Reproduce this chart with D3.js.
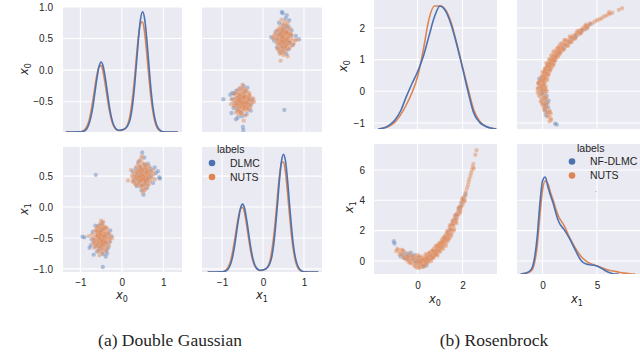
<!DOCTYPE html>
<html>
<head>
<meta charset="utf-8">
<script src="https://cdn.jsdelivr.net/npm/d3@7"></script>
<style>
body { margin: 0; background: #fff; }
text { font-family: "Liberation Sans", Arial, sans-serif; fill: #262626; }
</style>
</head>
<body>
<svg id="chart" width="640" height="361"></svg>
<script>
const BLUE = "#4C72B0";
const ORANGE = "#DD8452";

// ---- (a) Double Gaussian : samples as [x0, x1]
const dgLabels = ["DLMC", "NUTS"];

const dgDlmc = [
  [0.52,0.48],[0.45,0.60],[0.60,0.43],[0.38,0.52],[0.66,0.58],[0.50,0.35],[0.55,0.68],[0.42,0.40],[0.71,0.50],[0.33,0.62],
  [0.58,0.55],[0.47,0.27],[0.63,0.70],[0.29,0.42],[0.54,0.80],[0.75,0.39],[0.40,0.73],[0.61,0.31],[0.48,0.57],[0.69,0.62],
  [0.36,0.34],[0.57,0.45],[0.44,0.50],[0.82,0.55],[0.26,0.57],[0.52,0.20],[0.49,0.88],[0.90,0.48],[0.92,0.46],[0.87,0.58],
  [0.65,0.47],[0.43,0.64],[0.56,0.38],[0.79,0.64],[0.34,0.48],[-0.63,0.52],
  [-0.48,-0.52],[-0.58,-0.42],[-0.40,-0.58],[-0.66,-0.55],[-0.35,-0.44],[-0.52,-0.68],[-0.44,-0.35],[-0.62,-0.64],[-0.30,-0.57],[-0.55,-0.30],
  [-0.70,-0.40],[-0.46,-0.76],[-0.37,-0.70],[-0.75,-0.62],[-0.28,-0.38],[-0.54,-0.47],[-0.42,-0.48],[-0.60,-0.72],[-0.50,-0.37],[-0.33,-0.66],
  [-0.73,-0.52],[-0.47,-0.26],[-0.64,-0.30],[-0.39,-0.80],[-0.56,-0.60],[-0.95,-0.48],[-0.46,-0.97],[-0.90,-0.49],[-0.25,-0.47],[-0.78,-0.66],
  [-0.52,-0.55],[-0.44,-0.62],[-0.68,-0.77],[-0.36,-0.75]
];

const dgNuts = [
  [0.50,0.50],[0.42,0.55],[0.58,0.46],[0.47,0.38],[0.55,0.62],[0.36,0.49],[0.63,0.54],[0.51,0.67],[0.44,0.43],[0.60,0.40],
  [0.39,0.60],[0.53,0.33],[0.68,0.49],[0.32,0.44],[0.49,0.58],[0.57,0.55],[0.45,0.47],[0.62,0.63],[0.41,0.36],[0.54,0.45],
  [0.48,0.72],[0.70,0.58],[0.29,0.53],[0.52,0.41],[0.46,0.61],[0.59,0.49],[0.37,0.40],[0.64,0.44],[0.43,0.66],[0.56,0.37],
  [0.50,0.29],[0.33,0.58],[0.66,0.66],[0.47,0.52],[0.40,0.47],[0.61,0.57],[0.52,0.55],[0.44,0.33],[0.73,0.46],[0.35,0.65],
  [0.55,0.70],[0.27,0.46],[0.58,0.30],[0.49,0.44],[0.64,0.37],[0.38,0.54],[0.53,0.62],[0.45,0.56],[0.60,0.52],[0.42,0.42],
  [0.77,0.53],[0.24,0.50],[0.51,0.24],[0.47,0.78],[0.68,0.41],[0.31,0.38],[0.57,0.64],[0.39,0.70],[0.54,0.51],[0.46,0.48],
  [0.15,0.43],[0.80,0.45],[0.48,0.82],[0.22,0.60],
  [0.35,0.55],[0.62,0.47],[0.50,0.60],[0.43,0.50],[0.57,0.42],[0.48,0.35],[0.66,0.52],[0.40,0.58],[0.53,0.48],[0.45,0.65],
  [0.59,0.60],[0.37,0.45],[0.71,0.55],[0.30,0.50],[0.55,0.27],[0.49,0.52],[0.63,0.35],[0.42,0.75],[0.52,0.45],[0.58,0.68],
  [0.26,0.41],[0.75,0.60],[0.34,0.36],[0.47,0.44],[0.60,0.57],
  [-0.50,-0.50],[-0.56,-0.44],[-0.43,-0.55],[-0.52,-0.62],[-0.46,-0.38],[-0.62,-0.51],[-0.38,-0.47],[-0.49,-0.33],[-0.57,-0.58],[-0.41,-0.62],
  [-0.60,-0.40],[-0.47,-0.67],[-0.33,-0.52],[-0.53,-0.45],[-0.44,-0.43],[-0.66,-0.57],[-0.51,-0.72],[-0.40,-0.36],[-0.58,-0.31],[-0.35,-0.60],
  [-0.48,-0.55],[-0.55,-0.52],[-0.45,-0.49],[-0.63,-0.45],[-0.39,-0.54],[-0.54,-0.37],[-0.50,-0.64],[-0.42,-0.41],[-0.59,-0.63],[-0.30,-0.45],
  [-0.69,-0.50],[-0.52,-0.27],[-0.46,-0.74],[-0.37,-0.66],[-0.61,-0.34],[-0.56,-0.68],[-0.43,-0.31],[-0.49,-0.42],[-0.65,-0.62],[-0.34,-0.40],
  [-0.53,-0.57],[-0.47,-0.46],[-0.57,-0.48],[-0.41,-0.51],[-0.51,-0.39],[-0.72,-0.44],[-0.28,-0.55],[-0.54,-0.78],[-0.45,-0.24],[-0.60,-0.56],
  [-0.38,-0.71],[-0.64,-0.38],[-0.49,-0.58],[-0.42,-0.58],[-0.55,-0.42],[-0.36,-0.34],[-0.67,-0.66],[-0.48,-0.29],[-0.31,-0.62],[-0.58,-0.53],
  [-0.80,-0.47],[-0.23,-0.50],[-0.50,-0.22],
  [-0.45,-0.55],[-0.58,-0.46],[-0.52,-0.40],[-0.40,-0.44],[-0.63,-0.60],[-0.48,-0.62],[-0.35,-0.49],[-0.55,-0.34],[-0.44,-0.68],[-0.61,-0.47],
  [-0.50,-0.54],[-0.38,-0.57],[-0.67,-0.53],[-0.46,-0.35],[-0.54,-0.64],[-0.32,-0.42],[-0.57,-0.71],[-0.43,-0.47],[-0.70,-0.58],[-0.29,-0.50],
  [-0.51,-0.45],[-0.60,-0.38],[-0.47,-0.59],[-0.39,-0.33],[-0.53,-0.50]
];

// KDE curves
const dgKdeGrid = [-1.35,-1.2,-1.1,
  -1.0,-0.95,-0.9,-0.85,-0.8,-0.75,-0.7,-0.65,-0.6,-0.55,-0.5,-0.45,-0.4,-0.35,-0.3,-0.25,-0.2,-0.15,-0.1,-0.05,
  0,0.05,0.1,0.15,0.2,0.25,0.3,0.35,0.4,0.45,0.5,0.55,0.6,0.65,0.7,0.75,0.8,0.85,0.9,0.95,1.0,
  1.1,1.2,1.35];
const dgKdeX0Dlmc = [0,0,0.001,
  0.003,0.008,0.02,0.05,0.12,0.24,0.42,0.66,0.90,1.09,1.165,1.09,0.90,0.66,0.42,0.24,0.12,0.06,0.035,0.03,
  0.035,0.045,0.07,0.12,0.21,0.41,0.72,1.13,1.55,1.88,2.0,1.88,1.55,1.13,0.72,0.41,0.21,0.10,0.04,0.015,0.005,
  0.001,0,0];
const dgKdeX0Nuts = [0,0.001,0.002,
  0.005,0.014,0.036,0.084,0.17,0.32,0.52,0.75,0.96,1.09,1.105,0.99,0.79,0.56,0.35,0.20,0.10,0.05,0.03,0.025,
  0.03,0.045,0.07,0.14,0.29,0.53,0.85,1.24,1.59,1.81,1.83,1.65,1.31,0.93,0.58,0.33,0.16,0.07,0.03,0.01,0.004,
  0.001,0,0];
const dgKdeX1Dlmc = [0,0,0.001,
  0.003,0.008,0.02,0.05,0.115,0.23,0.41,0.64,0.87,1.06,1.13,1.06,0.87,0.64,0.41,0.23,0.115,0.06,0.035,0.03,
  0.035,0.045,0.07,0.12,0.21,0.40,0.71,1.10,1.52,1.84,1.96,1.84,1.52,1.10,0.71,0.40,0.21,0.10,0.04,0.015,0.005,
  0.001,0,0];
const dgKdeX1Nuts = [0,0.001,0.002,
  0.005,0.014,0.035,0.08,0.165,0.31,0.50,0.72,0.92,1.05,1.075,0.98,0.78,0.55,0.34,0.19,0.10,0.05,0.03,0.025,
  0.03,0.045,0.07,0.14,0.29,0.53,0.85,1.24,1.59,1.81,1.83,1.65,1.31,0.93,0.58,0.33,0.16,0.07,0.03,0.01,0.004,
  0.001,0,0];

const dgTicksX0 = [-1, 0, 1];
const dgTicksX1 = [-1, 0, 1];
const dgTicksRow0 = [1.0, 0.5, 0.0, -0.5];
const dgTicksRow1 = [0.5, 0.0, -0.5, -1.0];

// ---- (b) Rosenbrock : samples as [x0, x1]
const rbLabels = ["NF-DLMC", "NUTS"];

const rbDlmc = [
  [-1.05,1.30],[-1.02,1.15],[-0.75,0.30],[-0.65,0.45],[-0.58,0.20],[-0.50,0.50],[-0.42,0.10],[-0.35,0.35],[-0.30,0.55],[-0.22,0.10],
  [-0.15,0.40],[-0.08,-0.10],[0.00,0.20],[0.08,-0.20],[0.15,0.05],[0.25,-0.35],[0.35,-0.05],[0.45,0.05],[0.55,0.30],[0.65,0.25],
  [0.75,0.65],[0.85,0.55],[0.95,0.90],[1.05,1.00],[1.15,1.45],[1.25,1.50],[1.35,1.85],[1.45,2.05],[1.55,2.45],[1.65,2.70],
  [1.75,3.10],[1.85,3.45],[1.95,3.80],[2.05,4.10],[2.12,4.40],[1.90,3.55],[1.70,2.95],[0.40,-0.30],[-0.45,0.30],[-0.05,0.00]
];

const rbNuts = [
  [-0.85,0.72],[-0.75,0.55],[-0.68,0.40],[-0.60,0.62],[-0.55,0.25],[-0.50,0.35],[-0.45,0.15],[-0.40,0.30],[-0.35,0.05],[-0.30,0.20],
  [-0.28,-0.10],[-0.22,0.08],[-0.18,-0.20],[-0.15,0.15],[-0.10,-0.05],[-0.08,0.25],[-0.05,-0.30],[0.00,0.05],[0.02,-0.15],[0.05,0.10],
  [0.08,-0.40],[0.10,0.00],[0.12,0.20],[0.15,-0.25],[0.18,0.05],[0.20,-0.10],[0.25,0.15],[0.28,-0.05],[0.30,0.25],[0.33,-0.20],
  [0.35,0.10],[0.40,0.30],[0.42,0.00],[0.45,0.45],[0.48,0.15],[0.50,0.35],[0.55,0.55],[0.58,0.20],[0.60,0.40],[0.63,0.65],
  [0.66,0.30],[0.70,0.55],[0.72,0.80],[0.75,0.45],[0.78,0.70],[0.80,0.95],[0.83,0.60],[0.86,0.85],[0.88,0.50],[0.90,1.05],
  [0.93,0.75],[0.96,1.00],[0.98,0.80],[1.00,1.20],[1.02,0.90],[1.05,1.15],[1.08,1.40],[1.10,1.05],[1.13,1.30],[1.16,1.55],
  [1.18,1.20],[1.21,1.45],[1.24,1.70],[1.27,1.35],[1.30,1.80],[1.33,1.55],[1.36,2.00],[1.40,1.75],[1.43,2.20],[1.46,1.90],
  [1.50,2.35],[1.53,2.05],[1.57,2.60],[1.60,2.30],[1.64,2.80],[1.68,2.55],[1.72,3.05],[1.75,2.80],[1.80,3.30],[1.84,3.10],
  [1.88,3.60],[1.92,3.40],[1.96,3.90],[2.00,3.70],[2.05,4.20],[2.10,4.00],[2.15,4.55],[2.20,4.80],[2.27,5.20],[2.35,5.60],
  [2.42,6.00],[2.48,6.40],[2.57,7.00],[2.62,7.30],[2.50,6.10],[2.30,5.40],
  [0.05,-0.05],[0.15,0.30],[0.22,-0.30],[0.32,0.05],[0.38,-0.15],[0.46,0.20],[0.52,0.05],[0.57,0.35],[0.62,0.15],[0.68,0.50],
  [0.73,0.30],[0.77,0.60],[0.82,0.45],[0.85,0.75],[0.90,0.65],[0.94,0.95],[0.99,0.70],[1.03,1.05],[1.07,0.85],[1.12,1.20],
  [1.15,1.00],[1.20,1.35],[1.25,1.15],[1.29,1.55],[1.34,1.30],[1.38,1.70],[1.42,1.50],[1.47,2.10],[1.52,1.80],[1.58,2.40],
  [1.62,2.10],[1.70,2.70],[1.78,3.00],[1.86,3.30],[1.94,3.60],[2.02,4.00],[-0.25,0.35],[-0.12,-0.35],[0.00,0.40],[0.10,-0.45],
  [-0.62,0.20],[-0.70,0.75],[-0.40,-0.05],[0.26,-0.40],[0.36,0.45],
  [-0.80,0.45],[-0.65,0.70],[-0.52,0.10],[-0.38,0.50],[-0.32,-0.15],[-0.20,0.30],[-0.02,-0.45],[0.06,0.30],[0.14,-0.10],[0.22,0.10],
  [0.30,-0.30],[0.39,0.20],[0.47,-0.10],[0.53,0.55],[0.61,0.00],[0.67,0.70],[0.71,0.20],[0.79,0.40],[0.84,1.00],[0.89,0.35],
  [0.97,1.15],[1.01,0.60],[1.09,1.25],[1.14,0.80],[1.22,1.60],[1.26,1.00],[1.31,1.95],[1.37,1.45],[1.44,2.35],[1.49,1.65],
  [1.55,2.65],[1.61,2.00],[1.66,3.00],[1.73,2.50],[1.82,3.50],[1.90,3.20],[1.98,4.10],[2.07,3.90],[2.13,4.30],[2.24,5.00],
  [2.38,5.80],[2.45,6.20],[-0.95,0.65],[-0.90,0.80]
];

const rbKdeX0Grid = [-1.75,-1.5,-1.25,-1,-0.75,-0.5,-0.25,0,0.25,0.5,0.75,1,1.25,1.5,1.75,2,2.25,2.5,2.75,3,3.25,3.5];
const rbKdeX0Dlmc = [0,0.003,0.013,0.03,0.06,0.107,0.15,0.19,0.24,0.307,0.373,0.41,0.393,0.347,0.28,0.203,0.123,0.053,0.023,0.01,0.003,0];
const rbKdeX0Nuts = [0,0.003,0.01,0.023,0.047,0.08,0.12,0.173,0.26,0.363,0.41,0.41,0.397,0.353,0.283,0.207,0.133,0.063,0.027,0.01,0.003,0];

const rbKdeX1Grid = [-2,-1.5,-1,-0.75,-0.5,-0.25,0,0.25,0.5,0.75,1,1.25,1.5,2,2.5,3,3.5,4,4.5,5,5.5,6,6.5,7,7.5,8,8.5];
const rbKdeX1Dlmc = [0,0.003,0.017,0.05,0.12,0.23,0.31,0.323,0.29,0.26,0.233,0.2,0.173,0.147,0.117,0.08,0.047,0.033,0.03,0.027,0.017,0.007,0.001,0,null,null,null];
const rbKdeX1Nuts = [0,0.002,0.012,0.035,0.09,0.19,0.28,0.31,0.30,0.27,0.243,0.213,0.19,0.16,0.12,0.087,0.06,0.043,0.033,0.027,0.02,0.013,0.01,0.006,0.003,0.001,0];

const rbTicksX0 = [0, 2];
const rbTicksX1 = [0, 5];
const rbTicksRow0 = [2, 1, 0, -1];
const rbTicksRow1 = [6, 4, 2, 0];

const captions = ["(a) Double Gaussian", "(b) Rosenbrock"];

// ---------------------------------------------------------------
let svg = d3.select("#chart");
let defs = svg.append("defs");
let clipCount = 0;

function panel(x, y, gridX, gridY) {
    let x0 = x.range()[0], x1 = x.range()[1];
    let yb = y.range()[0], yt = y.range()[1];
    let id = "clip" + (clipCount++);
    defs.append("clipPath").attr("id", id)
        .append("rect").attr("x", x0).attr("y", yt).attr("width", x1 - x0).attr("height", yb - yt);
    let g = svg.append("g");
    g.append("rect")
        .attr("x", x0).attr("y", yt)
        .attr("width", x1 - x0).attr("height", yb - yt)
        .attr("fill", "#EAEAF2");
    g.selectAll(".gx").data(gridX).enter().append("line")
        .attr("x1", d => x(d)).attr("x2", d => x(d))
        .attr("y1", yt).attr("y2", yb)
        .attr("stroke", "#fff").attr("stroke-width", 1.1);
    g.selectAll(".gy").data(gridY).enter().append("line")
        .attr("x1", x0).attr("x2", x1)
        .attr("y1", d => y(d)).attr("y2", d => y(d))
        .attr("stroke", "#fff").attr("stroke-width", 1.1);
    return g.append("g").attr("clip-path", `url(#${id})`);
}

function scatter(g, x, y, pts, xi, yi, color, op) {
    g.selectAll(null).data(pts).enter().append("circle")
        .attr("cx", d => x(d[xi]))
        .attr("cy", d => y(d[yi]))
        .attr("r", 2.2)
        .attr("fill", color)
        .attr("fill-opacity", op)
        .attr("stroke", "#fff")
        .attr("stroke-opacity", 0.3)
        .attr("stroke-width", 0.3);
}

function kde(g, x, y, grid, vals, color) {
    let line = d3.line()
        .defined((d, i) => vals[i] != null)
        .x(d => x(d))
        .y((d, i) => y(vals[i]))
        .curve(d3.curveMonotoneX);
    g.append("path").datum(grid)
        .attr("d", line)
        .attr("fill", "none")
        .attr("stroke", color)
        .attr("stroke-width", 1.6);
}

function yAxis(x, y, ticks, fmt, pad) {
    svg.append("g")
        .attr("transform", `translate(${x.range()[0]},0)`)
        .call(d3.axisLeft(y).tickValues(ticks).tickFormat(fmt).tickSize(0).tickPadding(pad))
        .call(g => g.select(".domain").remove())
        .selectAll("text").style("font-size", "10px").attr("fill", "#262626")
        .style("font-family", '"Liberation Sans", Arial, sans-serif');
}

function xAxis(x, y, ticks, fmt, pad) {
    svg.append("g")
        .attr("transform", `translate(0,${y.range()[0]})`)
        .call(d3.axisBottom(x).tickValues(ticks).tickFormat(fmt).tickSize(0).tickPadding(pad))
        .call(g => g.select(".domain").remove())
        .selectAll("text").style("font-size", "10px").attr("fill", "#262626")
        .style("font-family", '"Liberation Sans", Arial, sans-serif');
}

function mathLabel(cx, cy, sub, rotate) {
    let t = svg.append("text")
        .attr("transform", `translate(${cx},${cy})` + (rotate ? " rotate(-90)" : ""))
        .attr("text-anchor", "middle")
        .attr("dy", "0.3em")
        .style("font-family", '"DejaVu Sans", sans-serif')
        .style("font-size", "11.5px");
    t.append("tspan").style("font-style", "italic").text("x");
    t.append("tspan").attr("dy", 3).style("font-size", "8px").text(sub);
}

function legend(x, y, title, names) {
    let g = svg.append("g");
    g.append("text").attr("x", x + 5).attr("y", y).attr("dy", "0.35em")
        .style("font-size", "10.5px").text(title);
    g.selectAll("circle").data(names).enter().append("circle")
        .attr("cx", x).attr("cy", (d, i) => y + 13.5 + i * 14)
        .attr("r", 3.3)
        .attr("fill", (d, i) => i == 0 ? BLUE : ORANGE);
    g.selectAll(".lt").data(names).enter().append("text")
        .attr("x", x + 18).attr("y", (d, i) => y + 13.5 + i * 14).attr("dy", "0.35em")
        .style("font-size", "10.5px").text(d => d);
}

let f1 = d3.format(".1f");
let f0 = d3.format("d");

// ---- figure (a)
let aX0 = d3.scaleLinear().domain([-1.42, 1.45]).range([63, 182]);
let aX1 = d3.scaleLinear().domain([-1.49, 1.44]).range([202, 322]);
let aY0 = d3.scaleLinear().domain([-0.98, 1.0]).range([132, 7]);
let aY1 = d3.scaleLinear().domain([-1.05, 0.97]).range([272, 147]);
let aD0 = d3.scaleLinear().domain([0, 2.08]).range([132, 7]);
let aD1 = d3.scaleLinear().domain([0, 2.08]).range([272, 147]);

let aTL = panel(aX0, aY0, dgTicksX0, dgTicksRow0);
kde(aTL, aX0, aD0, dgKdeGrid, dgKdeX0Nuts, ORANGE);
kde(aTL, aX0, aD0, dgKdeGrid, dgKdeX0Dlmc, BLUE);

let aTR = panel(aX1, aY0, dgTicksX1, dgTicksRow0);
scatter(aTR, aX1, aY0, dgDlmc, 1, 0, BLUE, 0.4);
scatter(aTR, aX1, aY0, dgNuts, 1, 0, ORANGE, 0.45);

let aBL = panel(aX0, aY1, dgTicksX0, dgTicksRow1);
scatter(aBL, aX0, aY1, dgDlmc, 0, 1, BLUE, 0.4);
scatter(aBL, aX0, aY1, dgNuts, 0, 1, ORANGE, 0.45);

let aBR = panel(aX1, aY1, dgTicksX1, dgTicksRow1);
kde(aBR, aX1, aD1, dgKdeGrid, dgKdeX1Nuts, ORANGE);
kde(aBR, aX1, aD1, dgKdeGrid, dgKdeX1Dlmc, BLUE);

yAxis(aX0, aY0, dgTicksRow0, f1, 10);
yAxis(aX0, aY1, dgTicksRow1, f1, 10);
xAxis(aX0, aY1, dgTicksX0, f0, 7);
xAxis(aX1, aY1, dgTicksX1, f0, 7);
mathLabel(25, 69, "0", true);
mathLabel(25, 209, "1", true);
mathLabel(122, 296, "0", false);
mathLabel(262, 296, "1", false);
legend(212, 149.5, "labels", dgLabels);

// ---- figure (b)
let bX0 = d3.scaleLinear().domain([-1.93, 3.53]).range([374, 497]);
let bX1 = d3.scaleLinear().domain([-2.34, 9.4]).range([517, 645]);
let bY0 = d3.scaleLinear().domain([-1.19, 2.88]).range([129, 0]);
let bY1 = d3.scaleLinear().domain([-0.86, 7.71]).range([274, 144]);
let bD0 = d3.scaleLinear().domain([0, 0.43]).range([129, 0]);
let bD1 = d3.scaleLinear().domain([0, 0.433]).range([274, 144]);

let bTL = panel(bX0, bY0, rbTicksX0, rbTicksRow0);
kde(bTL, bX0, bD0, rbKdeX0Grid, rbKdeX0Nuts, ORANGE);
kde(bTL, bX0, bD0, rbKdeX0Grid, rbKdeX0Dlmc, BLUE);

let bTR = panel(bX1, bY0, rbTicksX1, rbTicksRow0);
scatter(bTR, bX1, bY0, rbDlmc, 1, 0, BLUE, 0.4);
scatter(bTR, bX1, bY0, rbNuts, 1, 0, ORANGE, 0.45);

let bBL = panel(bX0, bY1, rbTicksX0, rbTicksRow1);
scatter(bBL, bX0, bY1, rbDlmc, 0, 1, BLUE, 0.4);
scatter(bBL, bX0, bY1, rbNuts, 0, 1, ORANGE, 0.45);

let bBR = panel(bX1, bY1, rbTicksX1, rbTicksRow1);
kde(bBR, bX1, bD1, rbKdeX1Grid, rbKdeX1Nuts, ORANGE);
kde(bBR, bX1, bD1, rbKdeX1Grid, rbKdeX1Dlmc, BLUE);

yAxis(bX0, bY0, rbTicksRow0, f0, 9);
yAxis(bX0, bY1, rbTicksRow1, f0, 9);
xAxis(bX0, bY1, rbTicksX0, f0, 8);
xAxis(bX1, bY1, rbTicksX1, f0, 8);
mathLabel(344, 66, "0", true);
mathLabel(350, 207, "1", true);
mathLabel(435, 300, "0", false);
mathLabel(577, 300, "1", false);
legend(572, 148, "labels", rbLabels);
svg.append("text").attr("x", 595).attr("y", 192).style("font-size", "6px").text(".");

// captions
svg.selectAll(".cap").data(captions).enter().append("text")
    .attr("x", (d, i) => i == 0 ? 170 : 494)
    .attr("y", 346)
    .attr("text-anchor", "middle")
    .style("font-family", '"Liberation Serif", "Times New Roman", serif')
    .style("font-size", "17.5px")
    .text(d => d);
</script>
</body>
</html>
